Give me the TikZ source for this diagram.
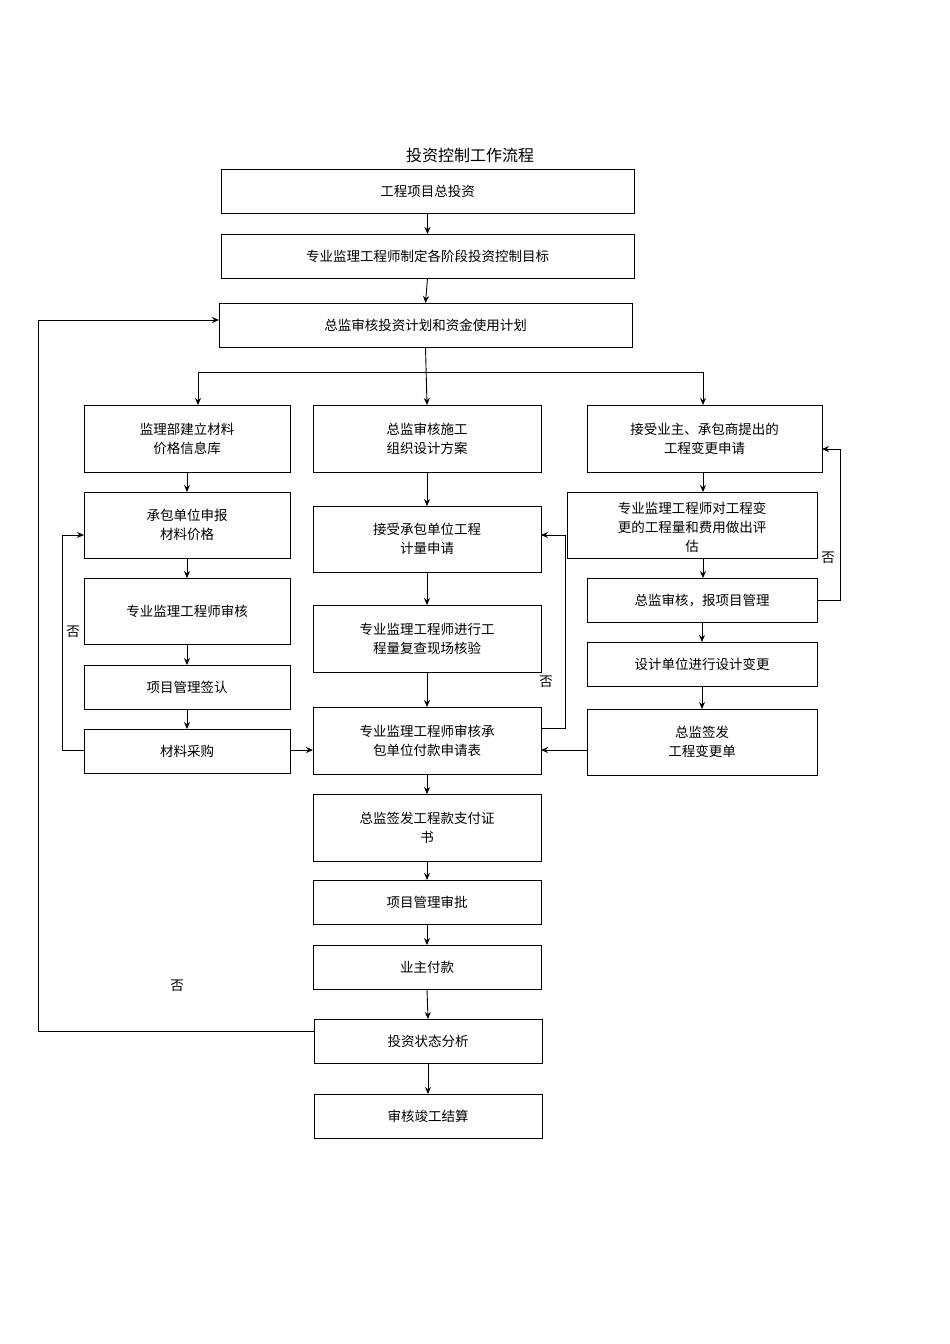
\documentclass[tikz,border=0pt]{standalone}
\usepackage{fontspec}
\setmainfont{Noto Sans CJK SC}
\usetikzlibrary{arrows.meta}
\begin{document}
\begin{tikzpicture}[x=1pt,y=-1pt,
  bx/.style={draw,line width=0.9pt,inner sep=0pt},
  ar/.style={-{Stealth[length=7pt,width=6pt]},line width=0.9pt},
  ln/.style={line width=0.9pt},
  tx/.style={font=\fontsize{13.5}{19}\selectfont,align=center}]
\useasboundingbox (0,0) rectangle (950,1344);
\node[font=\fontsize{16}{20}\selectfont] (title) at (470,155) {投资控制工作流程};
\newcommand\bx[6]{\draw[bx] (#2,#3) rectangle (#4,#5); \node[tx] (#1) at ({(#2+#4)/2},{(#3+#5)/2}) {#6};
 \coordinate (#1n) at ({(#2+#4)/2},#3); \coordinate (#1s) at ({(#2+#4)/2},#5);}
\bx{b1}{221}{169}{634}{213}{工程项目总投资}
\bx{b2}{221}{234}{634}{278}{专业监理工程师制定各阶段投资控制目标}
\bx{b3}{219}{303}{632}{347}{总监审核投资计划和资金使用计划}
\bx{l1}{84}{405}{290}{472}{监理部建立材料\\价格信息库}
\bx{l2}{84}{492}{290}{558}{承包单位申报\\材料价格}
\bx{l3}{84}{578}{290}{644}{专业监理工程师审核}
\bx{l4}{84}{665}{290}{709}{项目管理签认}
\bx{l5}{84}{729}{290}{773}{材料采购}
\bx{m1}{313}{405}{541}{472}{总监审核施工\\组织设计方案}
\bx{m2}{313}{506}{541}{572}{接受承包单位工程\\计量申请}
\bx{m3}{313}{605}{541}{672}{专业监理工程师进行工\\程量复查现场核验}
\bx{m4}{313}{707}{541}{774}{专业监理工程师审核承\\包单位付款申请表}
\bx{m5}{313}{794}{541}{861}{总监签发工程款支付证\\书}
\bx{m6}{313}{880}{541}{924}{项目管理审批}
\bx{m7}{313}{945}{541}{989}{业主付款}
\bx{m8}{314}{1019}{542}{1063}{投资状态分析}
\bx{m9}{314}{1094}{542}{1138}{审核竣工结算}
\bx{r1}{587}{405}{822}{472}{接受业主、承包商提出的\\工程变更申请}
\draw[bx] (567,492) rectangle (817,558);
\node[tx,anchor=north] (r2) at (692,498) {专业监理工程师对工程变\\更的工程量和费用做出评\\估};
\coordinate (r2n) at (703,492); \coordinate (r2s) at (703,558);
\bx{r3}{587}{578}{817}{622}{总监审核，报项目管理}
\bx{r4}{587}{642}{817}{686}{设计单位进行设计变更}
\bx{r5}{587}{709}{817}{775}{总监签发\\工程变更单}
\draw[ar] (b1s) -- (b2n);
\draw[ar] (b2s) -- (b3n);
\draw[ar] (b3s) -- (m1n);
\coordinate (jl) at (198,372); \coordinate (jr) at (703,372);
\draw[ln] (jl) -- (jr);
\draw[ar] (jl) -- (198,405);
\draw[ar] (jr) -- (703,405);
\draw[ar] (l1s) -- (l2n); \draw[ar] (l2s) -- (l3n); \draw[ar] (l3s) -- (l4n); \draw[ar] (l4s) -- (l5n);
\draw[ar] (m1s) -- (m2n); \draw[ar] (m2s) -- (m3n); \draw[ar] (m3s) -- (m4n); \draw[ar] (m4s) -- (m5n);
\draw[ar] (m5s) -- (m6n); \draw[ar] (m6s) -- (m7n); \draw[ar] (m7s) -- (m8n); \draw[ar] (m8s) -- (m9n);
\draw[ar] (703,472) -- (r2n); \draw[ar] (r2s) -- (703,578); \draw[ar] (r3s) -- (r4n); \draw[ar] (r4s) -- (r5n);
\draw[ar] (290,750) -- (313,750);
\draw[ar] (587,750) -- (541,750);
\draw[ar] (84,750) -- (62,750) -- (62,535) -- (84,535);
\node[tx] (n1) at (73,632) {否};
\draw[ar] (541,728) -- (565,728) -- (565,535) -- (541,535);
\node[tx] (n2) at (546,682) {否};
\draw[ar] (817,600) -- (840,600) -- (840,449) -- (822,449);
\node[tx] (n3) at (828,558) {否};
\draw[ar] (314,1031) -- (38,1031) -- (38,320) -- (219,320);
\node[tx] (n4) at (177,986) {否};
\end{tikzpicture}
\end{document}
